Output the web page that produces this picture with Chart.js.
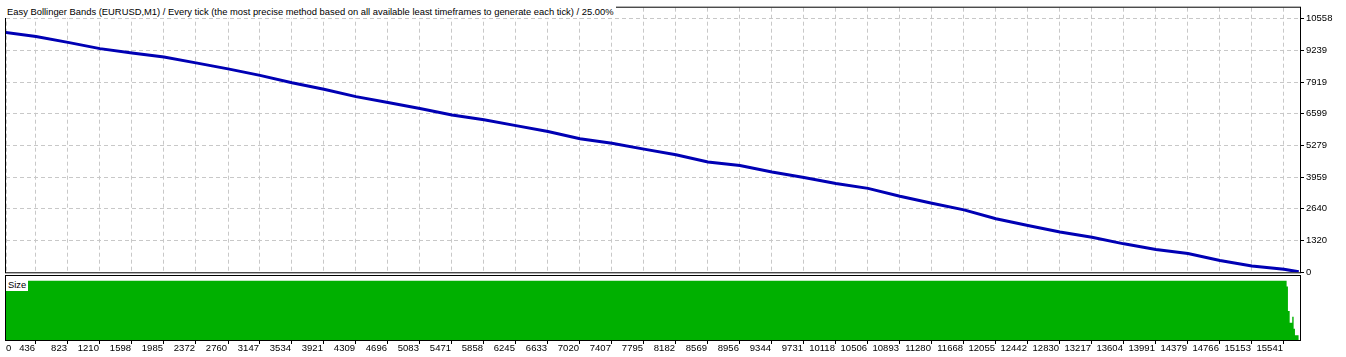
<!DOCTYPE html>
<html>
<head>
<meta charset="utf-8">
<script src="https://cdn.jsdelivr.net/npm/chart.js@4/dist/chart.umd.min.js"></script>
<style>
body { margin: 0; background: #fff; width: 1346px; height: 357px; overflow: hidden; position: relative; font-family: "Liberation Sans", Arial, sans-serif; }
#top { position: absolute; left: 0; top: 0; }
#bottom { position: absolute; left: 0; top: 275px; }
.lbl { position: absolute; background: #fff; font-size: 9.4px; line-height: 12px; color: #000; padding: 0 2px; white-space: nowrap; }
</style>
</head>
<body>
<canvas id="top" width="1346" height="280"></canvas>
<canvas id="bottom" width="1346" height="82"></canvas>
<div class="lbl" style="left:5px;top:6px">Easy Bollinger Bands (EURUSD,M1) / Every tick (the most precise method based on all available least timeframes to generate each tick) / 25.00%</div>
<div class="lbl" style="left:6px;top:279px">Size</div>
<script>
// Data

const xLabels = [0, 436, 823, 1210, 1598, 1985, 2372, 2760, 3147, 3534, 3921, 4309, 4696, 5083, 5471,
	5858, 6245, 6633, 7020, 7407, 7795, 8182, 8569, 8956, 9344, 9731, 10118, 10506, 10893,
	11280, 11668, 12055, 12442, 12830, 13217, 13604, 13991, 14379, 14766, 15153, 15541];

const yTicks = [0, 1320, 2640, 3959, 5279, 6599, 7919, 9239, 10558];

// balance line, read at each x tick
const tradeNo = [0, 436, 823, 1210, 1598, 1985, 2372, 2760, 3147, 3534, 3921, 4309, 4696, 5083, 5471,
	5858, 6245, 6633, 7020, 7407, 7795, 8182, 8569, 8956, 9344, 9731, 10118, 10506, 10893,
	11280, 11668, 12055, 12442, 12830, 13217, 13604, 13991, 14379, 14766, 15153, 15541, 15720];
const balance = [10010, 9816, 9568, 9308, 9127, 8962, 8715, 8467, 8195, 7890, 7617,
	7312, 7065, 6817, 6545, 6351, 6104, 5856, 5555, 5374, 5126,
	4895, 4590, 4442, 4178, 3947, 3699, 3493, 3163, 2875, 2598,
	2227, 1951, 1679, 1456, 1184, 949, 784, 495, 260, 124, 20];

// lot size steps
const sizeTrade = [0, 15573, 15589, 15610, 15641, 15658, 15674, 15720];
const sizeLots = [1.00, 0.90, 0.49, 0.29, 0.39, 0.19, 0.08, 0.08];

const xMin = 73;
const xMax = 15735;
const labelFont = '9.5px "Liberation Sans", Arial, sans-serif';

// black frame round the plot area
const frame = {
	id: "frame",
	afterDraw(chart) {
		const a = chart.chartArea;
		const ctx = chart.ctx;
		ctx.save();
		ctx.strokeStyle = "#000";
		ctx.lineWidth = 1;
		ctx.strokeRect(a.left - 0.5, a.top - 0.5, a.right - a.left + 1, a.bottom - a.top + 1);
		ctx.restore();
	}
};

// x labels sit left of their tick, first one at the edge
const xLabelText = {
	id: "xLabelText",
	afterDraw(chart) {
		const s = chart.scales.x;
		const ctx = chart.ctx;
		const y = chart.chartArea.bottom + 8;
		ctx.save();
		ctx.font = labelFont;
		ctx.fillStyle = "#000";
		ctx.textBaseline = "middle";
		xLabels.forEach((v, i) => {
			const px = s.getPixelForValue(Math.max(v, xMin));
			ctx.textAlign = i === 0 ? "left" : "right";
			ctx.fillText(String(v), i === 0 ? px : px - 1, y);
		});
		ctx.restore();
	}
};

const xTicks = scale => {
	scale.ticks = xLabels.map(v => ({ value: Math.max(v, xMin) }));
};

// Top chart: balance

new Chart(document.getElementById("top"), {
	type: "line",
	data: {
		datasets: [{
			data: tradeNo.map((t, i) => ({ x: t, y: balance[i] })),
			borderColor: "#0000b4",
			borderWidth: 3,
			pointRadius: 0,
			tension: 0
		}]
	},
	options: {
		responsive: false,
		animation: false,
		layout: { autoPadding: false, padding: { top: 6, left: 6, right: 0, bottom: 7 } },
		plugins: { legend: { display: false }, tooltip: { enabled: false } },
		scales: {
			x: {
				type: "linear",
				min: xMin,
				max: xMax,
				afterBuildTicks: xTicks,
				afterFit: s => { s.height = 0; },
				ticks: { display: false },
				grid: { color: "#c8c8c8", drawTicks: false },
				border: { display: false, dash: [4, 3] }
			},
			y: {
				position: "right",
				min: 0,
				max: 11012,
				afterBuildTicks: s => { s.ticks = yTicks.map(v => ({ value: v })); },
				afterFit: s => { s.width = 46; },
				ticks: {
					font: { family: '"Liberation Sans", Arial', size: 9.5 },
					color: "#000",
					padding: 2,
					callback: v => String(v)
				},
				grid: {
					color: c => (c.tick && c.tick.value === 0 ? "rgba(0,0,0,0)" : "#c8c8c8"),
					tickColor: "#000",
					tickLength: 4,
					tickBorderDash: []
				},
				border: { display: false, dash: [4, 3] }
			}
		}
	},
	plugins: [frame]
});

// Bottom chart: size

new Chart(document.getElementById("bottom"), {
	type: "line",
	data: {
		datasets: [{
			data: sizeTrade.map((t, i) => ({ x: t, y: sizeLots[i] })),
			stepped: true,
			fill: "origin",
			backgroundColor: "#00b000",
			borderWidth: 0,
			pointRadius: 0
		}]
	},
	options: {
		responsive: false,
		animation: false,
		layout: { autoPadding: false, padding: { top: 1, left: 6, right: 46, bottom: 0 } },
		plugins: { legend: { display: false }, tooltip: { enabled: false } },
		scales: {
			x: {
				type: "linear",
				min: xMin,
				max: xMax,
				afterBuildTicks: xTicks,
				afterFit: s => { s.height = 17; },
				ticks: { display: false },
				grid: {
					drawOnChartArea: false,
					tickLength: 4,
					tickColor: c => (c.index === 0 ? "rgba(0,0,0,0)" : "#000")
				},
				border: { display: false }
			},
			y: {
				display: false,
				min: 0,
				max: 1.079
			}
		}
	},
	plugins: [frame, xLabelText]
});
</script>
</body>
</html>
